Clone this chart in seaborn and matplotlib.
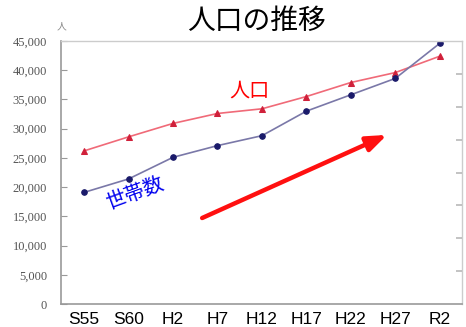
import matplotlib
matplotlib.use("Agg")
import matplotlib.pyplot as plt
import seaborn as sns
import pandas as pd

# ---- data ----
periods = ["S55", "S60", "H2", "H7", "H12", "H17", "H22", "H27", "R2"]
population = [26200, 28600, 30900, 32600, 33400, 35500, 37900, 39600, 42400]
households = [19100, 21400, 25100, 27100, 28800, 33000, 35800, 38600, 44600]
y_ticks = [0, 5000, 10000, 15000, 20000, 25000, 30000, 35000, 40000, 45000]

sns.set_theme(style="white")
plt.rcParams['font.family'] = ['Noto Sans CJK JP', 'DejaVu Sans']

fig = plt.figure(figsize=(4.66, 3.27), dpi=100)
ax = fig.add_axes([0.1309, 0.0703, 0.8605, 0.8043])

df = pd.DataFrame({"x": range(len(periods)), "pop": population, "hh": households})

sns.lineplot(data=df, x="x", y="pop", ax=ax, color="#f06a78", lw=1.2,
             marker="^", markersize=5, markerfacecolor="#d0203a",
             markeredgecolor="#d0203a")
sns.lineplot(data=df, x="x", y="hh", ax=ax, color="#7a78a8", lw=1.2,
             marker="o", markersize=4, markerfacecolor="#1a1a6a",
             markeredgecolor="#1a1a6a")

ax.set_xlim(-0.52, 8.5)
ax.set_ylim(0, 45000)
ax.set_xlabel("")
ax.set_ylabel("")

ax.set_xticks(range(len(periods)))
ax.set_xticklabels(periods, family=["Liberation Sans"], fontsize=12.5, color="black")
ax.set_yticks(y_ticks)
ax.set_yticklabels([f"{v:,}" for v in y_ticks], family=["Liberation Serif"],
                   fontsize=9, color="#555555")
ax.tick_params(axis="x", length=0, pad=6)
ax.tick_params(axis="y", direction="in", length=4, width=0.8, color="#999999", pad=10, left=True)

for s in ["left", "bottom"]:
    ax.spines[s].set_color("#999999")
    ax.spines[s].set_linewidth(1.2)
for s in ["top", "right"]:
    ax.spines[s].set_color("#cccccc")
    ax.spines[s].set_linewidth(1.0)

ax2 = ax.twinx()
ax2.set_ylim(0, 8)
ax2.set_yticks(range(1, 8))
ax2.set_yticklabels([])
ax2.tick_params(axis="y", direction="in", length=4, color="#bbbbbb", right=True)
for s in ax2.spines.values():
    s.set_visible(False)

# unit label
ax.text(-0.01, 1.035, "人", transform=ax.transAxes, fontsize=7, color="#888888",
        ha="left", va="bottom")

fig.text(0.55, 0.935, "人口の推移", fontsize=20, ha="center", va="center", color="black")

ax.text(0.47, 0.81, "人口", transform=ax.transAxes, fontsize=14.5, color="red",
        ha="center", va="center")
ax.text(0.185, 0.42, "世帯数", transform=ax.transAxes, fontsize=14.5, color="#0000ee",
        ha="center", va="center", rotation=20)

ax.annotate("", xy=(0.813, 0.643), xytext=(0.352, 0.327),
            xycoords="axes fraction", textcoords="axes fraction",
            arrowprops=dict(arrowstyle="-|>,head_length=1.0,head_width=0.38",
                            color="#ff1010", lw=3.2, shrinkA=0, shrinkB=0))

fig.savefig("out.png", dpi=100, facecolor="white")
